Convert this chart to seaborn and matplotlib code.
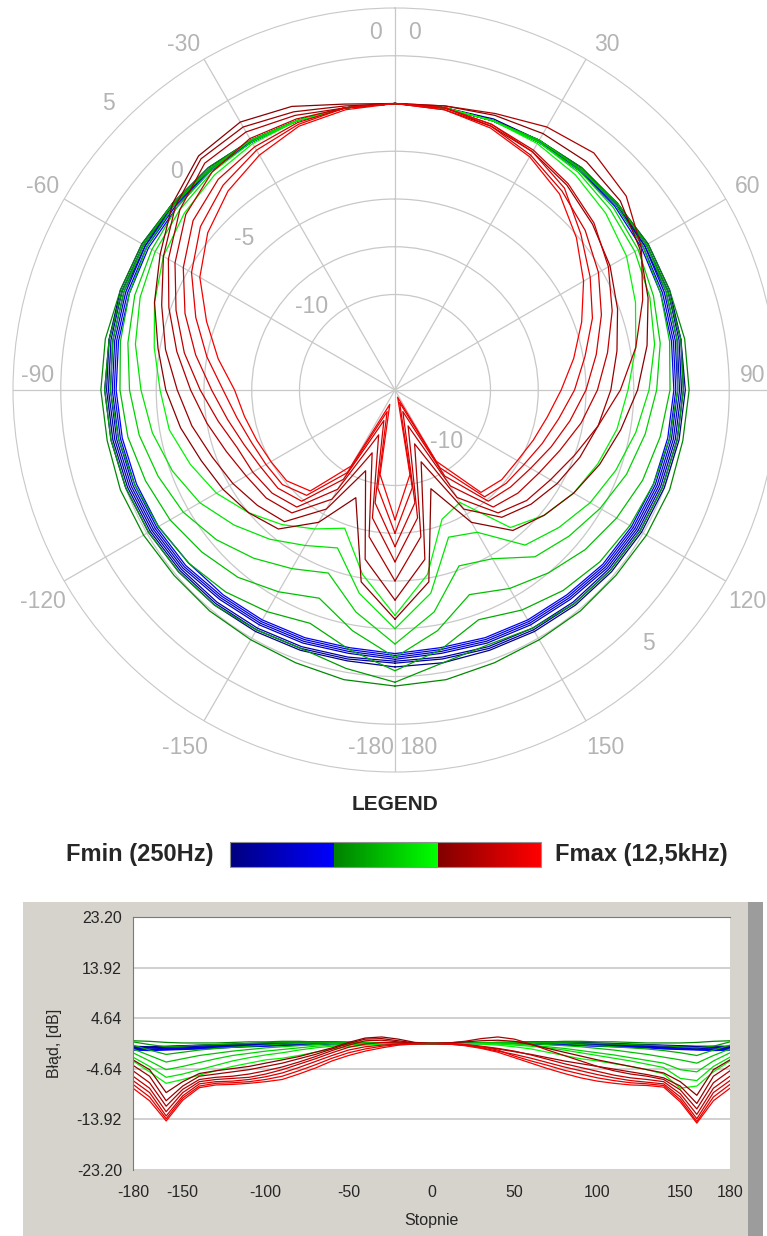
#%%
import numpy as np
import pandas as pd
import matplotlib
matplotlib.use("Agg")
import matplotlib.pyplot as plt
import seaborn as sns
from matplotlib.colors import LinearSegmentedColormap, Normalize
from matplotlib.patches import Rectangle

sns.set_style("white")
plt.rcParams["font.family"] = ["Liberation Sans", "DejaVu Sans"]
plt.rcParams["axes.unicode_minus"] = False

#%% data (level in dB relative to 0 deg, one list per frequency band)
angles = list(range(-180, 181, 10))
bands = ["250", "305", "370", "450", "550", "670", "810",
         "990", "1200", "1460", "1780", "2170", "2640", "3210",
         "3900", "4750", "5780", "7030", "8550", "10400", "12500"]

blue_levels = [
    [-0.5,-0.6,-0.5,-0.4,-0.3,-0.2,-0.1,0.0,0.1,0.2,0.2,0.3,0.3,0.2,0.2,0.1,0.0,0.0,0.0,0.0,0.1,0.1,0.2,0.2,0.3,0.3,0.2,0.2,0.1,0.0,-0.1,-0.2,-0.3,-0.4,-0.5,-0.5,-0.5],
    [-0.7,-0.7,-0.6,-0.5,-0.4,-0.3,-0.2,-0.1,0.0,0.1,0.2,0.2,0.2,0.2,0.1,0.1,0.0,0.0,0.0,0.0,0.0,0.1,0.1,0.2,0.2,0.2,0.2,0.1,0.0,-0.1,-0.2,-0.3,-0.4,-0.5,-0.6,-0.7,-0.7],
    [-0.8,-0.8,-0.7,-0.6,-0.5,-0.4,-0.3,-0.2,-0.1,0.0,0.1,0.2,0.2,0.1,0.1,0.0,0.0,0.0,0.0,0.0,0.0,0.0,0.1,0.1,0.2,0.2,0.1,0.0,-0.1,-0.2,-0.3,-0.4,-0.5,-0.6,-0.7,-0.8,-0.8],
    [-0.9,-1.0,-0.9,-0.8,-0.7,-0.5,-0.4,-0.3,-0.2,-0.1,0.0,0.1,0.1,0.1,0.1,0.0,0.0,0.0,0.0,0.0,0.0,0.1,0.1,0.1,0.1,0.1,0.0,-0.1,-0.2,-0.3,-0.4,-0.5,-0.7,-0.8,-0.9,-1.0,-0.9],
    [-1.0,-1.1,-1.0,-0.9,-0.8,-0.6,-0.5,-0.4,-0.3,-0.2,-0.1,0.0,0.1,0.1,0.0,0.0,0.0,0.0,0.0,0.0,0.0,0.0,0.1,0.1,0.1,0.0,-0.1,-0.2,-0.3,-0.4,-0.5,-0.6,-0.8,-0.9,-1.0,-1.1,-1.0],
    [-1.1,-1.2,-1.1,-1.0,-0.9,-0.7,-0.6,-0.5,-0.4,-0.3,-0.2,-0.1,0.0,0.0,0.0,0.0,0.0,0.0,0.0,0.0,0.0,0.0,0.0,0.1,0.0,-0.1,-0.2,-0.3,-0.4,-0.5,-0.6,-0.7,-0.9,-1.0,-1.1,-1.2,-1.1],
    [-1.2,-1.3,-1.2,-1.1,-1.0,-0.9,-0.7,-0.6,-0.5,-0.4,-0.3,-0.2,-0.1,-0.1,0.0,0.0,0.0,0.0,0.0,0.0,0.0,0.0,0.0,0.0,-0.1,-0.2,-0.3,-0.4,-0.5,-0.6,-0.7,-0.8,-1.0,-1.1,-1.2,-1.3,-1.2],
]
green_levels = [
    [0.5,0.4,0.2,0.1,0.1,0.1,0.2,0.3,0.3,0.4,0.4,0.3,0.3,0.2,0.2,0.1,0.0,0.0,0.0,0.0,0.0,0.1,0.2,0.2,0.3,0.3,0.4,0.4,0.3,0.3,0.2,0.1,0.1,0.1,0.2,0.4,0.5],
    [0.3,-0.2,-0.6,-0.5,-0.3,-0.2,-0.1,0.0,0.1,0.2,0.2,0.2,0.2,0.2,0.1,0.1,0.0,0.0,0.0,0.0,0.0,0.1,0.1,0.2,0.2,0.2,0.2,0.1,0.0,-0.1,-0.2,-0.3,-0.4,-0.6,-0.8,-0.5,0.3],
    [-0.3,-1.2,-2.0,-1.6,-1.2,-0.9,-0.7,-0.5,-0.3,-0.1,0.0,0.1,0.2,0.2,0.1,0.1,0.0,0.0,0.0,0.0,0.0,0.1,0.1,0.2,0.2,0.1,0.0,-0.2,-0.4,-0.6,-0.8,-1.0,-1.3,-1.7,-2.2,-1.2,-0.3],
    [-1.0,-2.2,-3.4,-2.8,-2.2,-1.8,-1.4,-1.1,-0.8,-0.6,-0.4,-0.2,0.0,0.1,0.1,0.1,0.0,0.0,0.0,0.0,0.0,0.1,0.1,0.1,0.0,-0.2,-0.4,-0.6,-0.9,-1.2,-1.6,-2.0,-2.5,-3.0,-3.6,-2.2,-1.0],
    [-1.7,-3.2,-4.8,-4.2,-3.5,-2.8,-2.2,-1.8,-1.4,-1.1,-0.8,-0.5,-0.3,-0.1,0.0,0.1,0.0,0.0,0.0,0.0,0.0,0.0,0.0,-0.1,-0.3,-0.6,-0.9,-1.3,-1.7,-2.1,-2.6,-3.1,-3.6,-4.8,-5.2,-3.2,-1.7],
    [-2.5,-4.2,-6.2,-5.6,-4.8,-4.0,-3.2,-2.6,-2.1,-1.7,-1.2,-0.8,-0.5,-0.3,-0.1,0.0,0.0,0.0,0.0,0.0,0.0,0.0,-0.1,-0.3,-0.5,-0.8,-1.2,-1.7,-2.2,-2.7,-3.2,-3.8,-4.4,-6.4,-6.8,-4.2,-2.5],
    [-3.2,-5.2,-7.3,-6.6,-5.8,-5.0,-4.2,-3.6,-3.0,-2.7,-2.2,-1.6,-1.0,-0.6,-0.3,-0.1,0.0,0.0,0.0,0.0,0.0,-0.1,-0.3,-0.6,-1.0,-1.6,-2.2,-2.8,-3.2,-3.7,-4.2,-4.8,-5.6,-8.2,-7.8,-5.2,-3.2],
]
red_levels = [
    [-3.0,-4.8,-9.0,-7.0,-5.5,-5.0,-4.6,-4.2,-3.6,-3.0,-2.4,-1.6,-0.8,0.2,1.0,1.2,0.8,0.2,0.0,0.1,0.3,0.5,0.6,0.4,-0.2,-0.9,-1.6,-2.3,-3.0,-3.6,-4.2,-4.8,-5.4,-7.0,-9.5,-4.8,-3.0],
    [-4.0,-6.0,-10.5,-7.8,-6.0,-5.6,-5.2,-4.8,-4.2,-3.6,-2.8,-2.0,-1.0,0.0,0.8,0.9,0.5,0.1,0.0,-0.1,-0.3,-0.6,-1.0,-1.5,-2.0,-2.6,-3.2,-3.7,-4.2,-4.7,-5.2,-5.7,-6.3,-7.8,-11.0,-6.0,-4.0],
    [-5.0,-7.2,-11.5,-8.4,-6.6,-6.2,-6.0,-5.6,-5.0,-4.3,-3.4,-2.4,-1.3,-0.3,0.5,0.6,0.3,0.0,0.0,0.1,0.4,0.9,1.2,0.8,-0.1,-1.2,-2.2,-3.2,-4.2,-5.0,-5.6,-6.0,-6.6,-8.5,-12.0,-7.2,-5.0],
    [-6.0,-8.2,-12.5,-9.0,-7.0,-6.6,-6.4,-6.2,-5.6,-4.8,-3.8,-2.8,-1.7,-0.7,-0.1,0.2,0.1,0.0,0.0,0.0,-0.2,-0.5,-0.9,-1.4,-2.1,-2.9,-3.7,-4.4,-5.1,-5.8,-6.3,-6.6,-7.0,-9.2,-13.0,-8.2,-6.0],
    [-6.8,-9.0,-13.3,-9.6,-7.4,-7.0,-6.9,-6.6,-6.1,-5.4,-4.4,-3.3,-2.2,-1.2,-0.6,-0.3,-0.1,0.0,0.0,0.0,-0.3,-0.8,-1.4,-2.0,-2.7,-3.5,-4.3,-5.0,-5.7,-6.3,-6.8,-7.1,-7.4,-9.8,-13.8,-9.0,-6.8],
    [-7.5,-9.8,-13.8,-10.0,-7.8,-7.3,-7.2,-7.0,-6.6,-6.0,-5.0,-3.9,-2.7,-1.7,-1.0,-0.5,-0.2,0.0,0.0,0.0,-0.2,-0.6,-1.2,-2.3,-3.2,-4.0,-4.9,-5.6,-6.3,-6.8,-7.2,-7.4,-7.7,-10.3,-14.3,-9.8,-7.5],
    [-8.2,-10.5,-14.2,-10.4,-8.1,-7.6,-7.5,-7.3,-7.0,-6.6,-5.6,-4.5,-3.2,-2.2,-1.4,-0.8,-0.3,-0.1,0.0,-0.1,-0.4,-0.9,-1.6,-2.6,-3.6,-4.6,-5.5,-6.3,-6.9,-7.3,-7.6,-7.7,-8.0,-10.7,-14.6,-10.5,-8.2],
]

polar_r_grid = [-10, -7.5, -5, -2.5, 0, 2.5]
polar_r_labels = [-10, -5, 0, 5]
polar_r_labels_lower = [-10, 5]
theta_labels_right = [0, 30, 60, 90, 120, 150, 180]
theta_labels_left = [0, -30, -60, -90, -120, -150, -180]
err_yticks = [23.20, 13.92, 4.64, -4.64, -13.92, -23.20]
err_xticks = [-180, -150, -100, -50, 0, 50, 100, 150, 180]

#%% long form table
rows = []
for band, lv in zip(bands, blue_levels + green_levels + red_levels):
    assert len(lv) == len(angles)
    for a, v in zip(angles, lv):
        rows.append((band, a, np.deg2rad(a), v))
df = pd.DataFrame(rows, columns=["band", "angle", "theta", "level"])

# blue -> green -> red, each third dark to bright
cdict = {"red": [(0, 0, 0), (2/3, 0, 0.5), (1, 1, 1)],
         "green": [(0, 0, 0), (1/3, 0, 0.5), (2/3, 1, 0), (1, 0, 0)],
         "blue": [(0, 0.5, 0.5), (1/3, 1, 0), (1, 0, 0)]}
freq_cmap = LinearSegmentedColormap("freq", cdict)
n = len(blue_levels)
pal = {b: freq_cmap((i // n + (i % n + 0.5) / n) / 3) for i, b in enumerate(bands)}

fig = plt.figure(figsize=(7.67, 12.36), dpi=100)
W, H = 767, 1236
grid_c = "#c8c8c8"
lab_c = "#b4b4b4"

#%% polar plot
axp = fig.add_axes([13/W, 1-772/H, 764/W, 764/H], projection="polar")
axp.set_theta_zero_location("N")
axp.set_theta_direction(-1)
sns.lineplot(data=df, x="theta", y="level", hue="band", hue_order=bands, palette=pal,
             estimator=None, legend=False, lw=0.9, ax=axp)
axp.set_xlim(0, 2*np.pi)
axp.set_ylim(-15, 5)
axp.set_yticks(polar_r_grid)
axp.set_yticklabels([])
axp.set_xticks(np.deg2rad(np.arange(0, 360, 30)))
axp.set_xticklabels([])
axp.grid(True, color=grid_c, lw=0.9)
axp.spines["polar"].set_color(grid_c)
axp.set_xlabel("")
axp.set_ylabel("")

# (angle shift, radius) for each angle label
lab_pos = {0: (3.2, 3.75), 30: (1.5, 6.2), 60: (0.0, 6.3), 90: (-2.3, 3.75),
           120: (1.0, 6.5), 150: (-0.5, 6.7), 180: (-3.8, 3.75)}
for side, angs in ((1, theta_labels_right), (-1, theta_labels_left)):
    for a in angs:
        dth, rr = lab_pos[abs(a)]
        axp.text(np.deg2rad(a + side*dth), rr, str(a), ha="center", va="center",
                 fontsize=16.5, color=lab_c)
for v in polar_r_labels:
    axp.text(np.deg2rad(-45), v + 1.2, str(v), ha="center", va="center", fontsize=16.5, color=lab_c)
for v in polar_r_labels_lower:
    axp.text(np.deg2rad(135), v - 1.2, str(v), ha="center", va="center", fontsize=16.5, color=lab_c)

#%% legend bar
fig.text(395/W, 1-805/H, "LEGEND", ha="center", va="center", fontsize=15, fontweight="bold")
fig.text(213/W, 1-855/H, "Fmin (250Hz)", ha="right", va="center", fontsize=17, fontweight="bold")
fig.text(555/W, 1-855/H, "Fmax (12,5kHz)", ha="left", va="center", fontsize=17, fontweight="bold")
cax = fig.add_axes([230/W, 1-867/H, 311/W, 25/H])
cb = fig.colorbar(plt.cm.ScalarMappable(norm=Normalize(0, 1), cmap=freq_cmap), cax=cax,
                  orientation="horizontal")
cb.set_ticks([])
cb.outline.set_edgecolor("#909090")

#%% error plot
fig.add_artist(Rectangle((23/W, 0), (748-23)/W, (H-902)/H, transform=fig.transFigure,
                         facecolor="#d6d3cc", edgecolor="none", zorder=-2))
fig.add_artist(Rectangle((748/W, 0), 15/W, (H-902)/H, transform=fig.transFigure,
                         facecolor="#9c9c9c", edgecolor="none", zorder=-2))

axc = fig.add_axes([133/W, 1-1170/H, 597/W, 253/H])
sns.lineplot(data=df, x="angle", y="level", hue="band", hue_order=bands, palette=pal,
             estimator=None, legend=False, lw=0.9, ax=axc)
axc.set_facecolor("white")
axc.set_xlim(-180, 180)
axc.set_ylim(-23.2, 23.2)
axc.set_yticks(err_yticks)
axc.set_yticklabels([f"{v:.2f}" for v in err_yticks])
axc.set_xticks(err_xticks)
axc.yaxis.grid(True, color=grid_c, lw=1.2)
axc.xaxis.grid(False)
for s in ("left", "top"):
    axc.spines[s].set_color("#7a7a7a")
for s in ("right", "bottom"):
    axc.spines[s].set_visible(False)
axc.tick_params(axis="y", direction="out", length=6, width=1, color="#303030", pad=2, labelsize=11.5)
axc.tick_params(axis="x", direction="out", length=7, width=1, color="#303030", pad=4, labelsize=11.5)
axc.set_xlabel("Stopnie", fontsize=11.5)
axc.set_ylabel("Błąd, [dB]", fontsize=11.5)
axc.xaxis.set_label_coords(0.5, -0.17)
axc.yaxis.set_label_coords(-0.119, 0.5)

plt.savefig("out.png", dpi=100)
